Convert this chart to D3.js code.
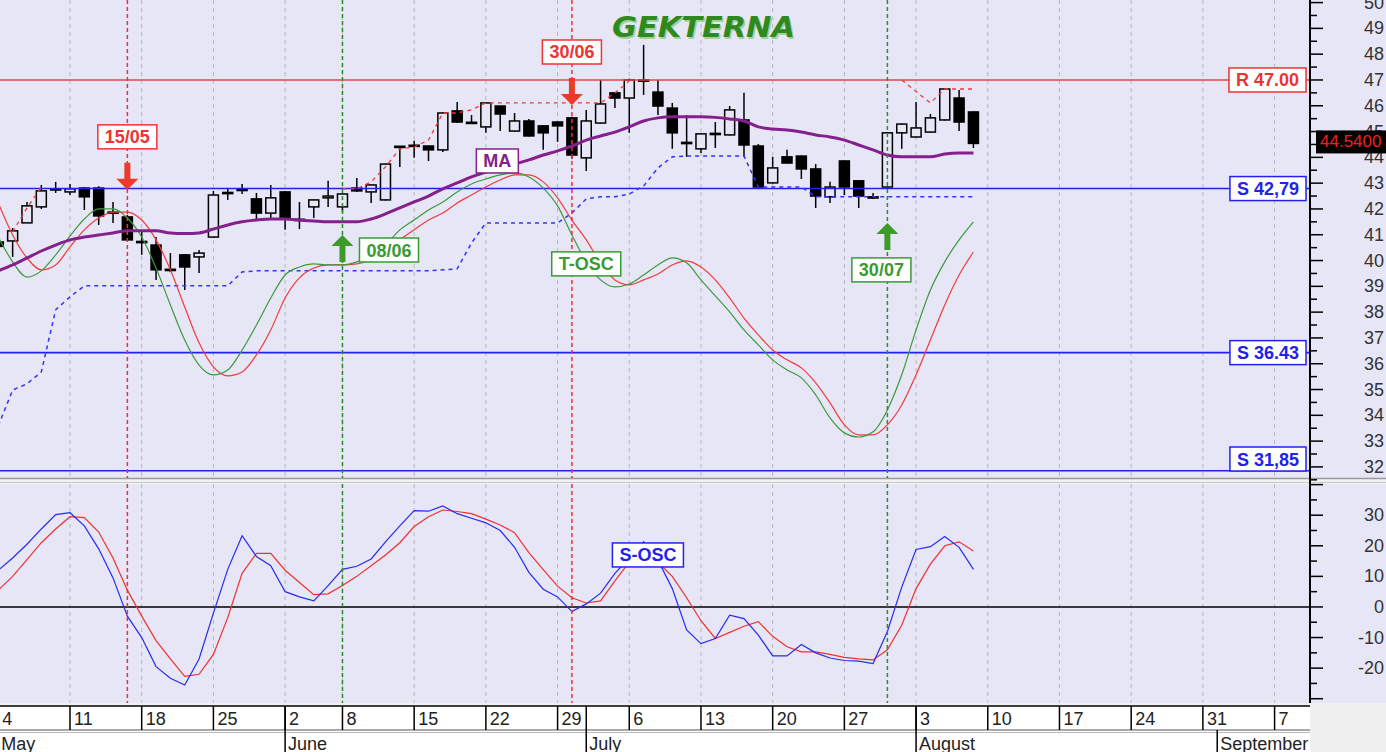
<!DOCTYPE html>
<html>
<head>
<meta charset="utf-8">
<script src="https://cdn.jsdelivr.net/npm/d3@7"></script>
<style>
  html, body { margin: 0; padding: 0; background: #E6E6F6; overflow: hidden; }
  svg { display: block; }
</style>
</head>
<body>
<svg id="chart" width="1386" height="752"></svg>
<script>
/* GEKTERNA daily candles, May - August, with MA, T-OSC, S-OSC and stop lines.
   Index i is the trading day counted from Monday 4 May.                      */
var days = ['04/05','05/05','06/05','07/05','08/05','11/05','12/05','13/05','14/05','15/05',
  '18/05','19/05','20/05','21/05','22/05','25/05','26/05','27/05','28/05','29/05',
  '02/06','03/06','04/06','05/06','08/06','09/06','10/06','11/06','12/06','15/06',
  '16/06','17/06','18/06','19/06','22/06','23/06','24/06','25/06','26/06','29/06',
  '30/06','01/07','02/07','03/07','06/07','07/07','08/07','09/07','10/07','13/07',
  '14/07','15/07','16/07','17/07','20/07','21/07','22/07','23/07','24/07','27/07',
  '28/07','29/07','30/07','31/07','03/08','04/08','05/08','06/08','07/08'];

var opens = [40.72, 40.76, 41.46, 42.08, 42.75, 42.66, 42.81, 42.81, 41.88, 41.69,
  40.74, 40.60, 39.66, 40.22, 40.14, 40.91, 42.60, 42.72, 42.39, 41.84,
  42.66, 41.60, 42.08, 42.43, 42.08, 42.81, 42.66, 42.35, 44.40, 44.44,
  44.44, 44.29, 45.80, 45.36, 45.18, 45.99, 45.02, 45.41, 45.22, 45.37,
  45.53, 43.98, 45.33, 46.50, 46.30, 47.00, 46.53, 45.91, 44.58, 44.33,
  44.89, 44.87, 45.45, 44.44, 43.01, 44.02, 44.05, 43.55, 42.47, 43.86,
  43.09, 42.47, 42.85, 44.95, 44.79, 44.98, 45.45, 46.30, 45.76];
var highs = [40.95, 41.26, 42.27, 42.93, 43.05, 42.97, 42.85, 42.88, 42.27, 41.77,
  41.11, 40.91, 40.29, 40.25, 40.41, 42.70, 42.81, 42.97, 42.62, 42.93,
  42.70, 42.27, 42.37, 43.09, 42.60, 43.20, 42.95, 43.76, 44.44, 44.64,
  44.46, 45.74, 46.15, 45.64, 46.13, 46.00, 45.72, 45.49, 45.24, 45.39,
  45.57, 45.84, 47.00, 46.52, 47.05, 48.36, 47.00, 46.11, 45.64, 44.93,
  45.37, 45.99, 46.50, 44.52, 44.02, 44.29, 44.07, 43.74, 43.05, 43.88,
  43.11, 42.62, 44.97, 45.31, 46.15, 45.68, 46.67, 46.61, 45.78];
var lows = [40.30, 40.14, 41.46, 42.00, 42.62, 42.54, 41.96, 41.38, 41.46, 40.78,
  40.22, 39.25, 39.55, 38.86, 39.52, 40.88, 42.35, 42.58, 41.57, 41.65,
  41.19, 41.22, 41.65, 42.08, 41.88, 42.66, 42.23, 42.33, 43.63, 43.98,
  43.86, 44.21, 45.33, 45.31, 44.95, 45.02, 45.00, 44.81, 44.29, 44.60,
  43.95, 43.47, 45.31, 45.91, 44.95, 46.42, 45.64, 44.33, 44.02, 44.17,
  44.36, 44.85, 44.02, 42.80, 42.99, 43.76, 43.16, 42.04, 42.23, 42.54,
  42.04, 42.39, 42.83, 44.33, 44.77, 44.96, 45.43, 45.02, 44.36];
var closes = [40.55, 41.15, 42.12, 42.70, 42.78, 42.78, 42.47, 41.73, 41.85, 40.80,
  40.70, 39.64, 39.62, 39.75, 40.29, 42.54, 42.64, 42.76, 41.84, 42.43,
  41.65, 41.55, 42.35, 42.50, 42.58, 42.70, 42.93, 43.74, 44.43, 44.47,
  44.29, 45.72, 45.37, 45.33, 46.11, 45.68, 45.41, 44.83, 44.95, 45.22,
  44.09, 45.41, 46.07, 46.30, 47.00, 46.97, 45.99, 44.95, 44.56, 44.91,
  44.93, 45.84, 44.48, 42.85, 43.59, 43.78, 43.55, 42.50, 42.85, 42.85,
  42.50, 42.45, 44.95, 45.29, 45.14, 45.53, 46.65, 45.37, 44.54];

var maLine = [39.60, 39.83, 40.10, 40.37, 40.60, 40.80, 40.91, 40.99, 41.07, 41.15,
  41.15, 41.15, 41.07, 41.05, 41.07, 41.22, 41.38, 41.50, 41.57, 41.61,
  41.61, 41.57, 41.53, 41.50, 41.50, 41.50, 41.61, 41.81, 42.04, 42.27,
  42.50, 42.78, 43.01, 43.24, 43.43, 43.59, 43.74, 43.90, 44.09, 44.25,
  44.44, 44.67, 44.83, 44.98, 45.18, 45.41, 45.53, 45.57, 45.57, 45.57,
  45.55, 45.49, 45.41, 45.18, 45.10, 45.06, 44.98, 44.87, 44.79, 44.67,
  44.48, 44.29, 44.09, 44.02, 44.02, 44.02, 44.13, 44.17, 44.17];

/* T-OSC is plotted on the price scale */
var tOscFast = [40.91, 39.95, 39.36, 39.60, 40.22, 40.95, 41.61, 42.00, 42.00, 41.65,
  40.91, 39.71, 38.28, 36.92, 35.95, 35.57, 35.76, 36.53, 37.50, 38.55,
  39.44, 39.75, 39.87, 39.83, 39.83, 39.95, 40.22, 40.60, 41.19, 41.57,
  41.96, 42.27, 42.66, 42.97, 43.16, 43.32, 43.40, 43.24, 42.81, 42.12,
  40.99, 39.95, 39.25, 38.98, 39.09, 39.44, 39.83, 40.10, 39.91, 39.25,
  38.63, 38.01, 37.31, 36.73, 36.15, 35.76, 35.45, 34.79, 33.90, 33.32,
  33.16, 33.36, 34.21, 35.57, 37.31, 38.86, 39.95, 40.80, 41.50];
var tOscSlow = [42.23, 40.99, 40.10, 39.64, 39.83, 40.53, 41.19, 41.65, 41.88, 41.88,
  41.57, 40.80, 39.64, 38.20, 36.81, 35.88, 35.53, 35.68, 36.34, 37.31,
  38.55, 39.33, 39.71, 39.83, 39.83, 39.87, 40.02, 40.29, 40.80, 41.19,
  41.57, 41.84, 42.23, 42.54, 42.85, 43.12, 43.32, 43.32, 43.05, 42.43,
  41.57, 40.80, 39.91, 39.25, 39.06, 39.25, 39.48, 39.83, 39.99, 39.75,
  39.25, 38.55, 37.77, 37.12, 36.53, 36.15, 35.84, 35.26, 34.48, 33.63,
  33.24, 33.24, 33.63, 34.40, 35.57, 36.92, 38.28, 39.44, 40.33];

var sOscFast = [12, 16, 20.5, 25.5, 30.2, 30.8, 26.5, 19, 9.5, -3,
  -10, -19.5, -23.3, -25.5, -17, -2, 12.3, 23.3, 16.5, 13.5,
  5, 3.3, 2, 7, 12.3, 13.3, 15.7, 21.3, 26.5, 31.5,
  31.3, 33, 30.5, 29, 27.5, 25, 19.5, 11.3, 5.8, 3.3,
  -1.5, 1, 4.5, 11, 16, 21.3, 15.3, 6, -7.5, -12,
  -10.3, -2.7, -3.8, -9.2, -16, -16, -12.3, -15, -16.7, -17.5,
  -17.7, -18.5, -8, 6.5, 18.8, 19.7, 23, 19.5, 12.3];
var sOscSlow = [5.5, 10, 15.5, 21, 25.5, 29.5, 29.2, 24.5, 16, 5.5,
  -3, -11, -17, -22.7, -22, -15.5, -3.5, 11, 17.5, 17.5,
  12, 8, 4, 4.3, 7, 10, 13.5, 17, 21, 26.3,
  29.5, 31.7, 31.2, 30.5, 28.7, 26.8, 24.3, 17.8, 12.2, 6.8,
  3, 1.3, 2, 8.5, 14.7, 16, 14.5, 10, 3, -4.5,
  -10.3, -8.3, -6.3, -4.8, -9.6, -13, -14.7, -14.7, -15.5, -16.5,
  -17, -17.3, -14, -6, 6, 14, 20, 21.3, 18.3];

/* trailing stops: blue one below price, red one above (only in up-legs) */
var supportStop = [33.59, 34.98, 35.22, 35.68, 38.09, 38.59, 39.02, 39.02, 39.02, 39.02,
  39.02, 39.02, 39.02, 39.02, 39.02, 39.02, 39.02, 39.56, 39.60, 39.60,
  39.60, 39.60, 39.60, 39.60, 39.60, 39.60, 39.60, 39.60, 39.60, 39.60,
  39.60, 39.64, 39.68, 40.68, 41.46, 41.46, 41.46, 41.46, 41.46, 41.46,
  41.84, 42.39, 42.47, 42.47, 42.58, 42.89, 43.59, 44.02, 44.05, 44.05,
  44.05, 44.05, 44.05, 42.85, 42.85, 42.85, 42.85, 42.47, 42.47, 42.47,
  42.47, 42.47, 42.47, 42.47, 42.47, 42.47, 42.47, 42.47, 42.47];
var resistStop = [null, 41.11, 42.04, 42.85, null, null, null, null, null, null,
  null, null, null, null, null, null, null, null, null, null,
  null, null, null, null, 42.78, 42.78, 43.05, 43.63, 44.33, 44.40,
  44.67, 45.72, 45.72, 45.84, 46.11, 46.11, 46.11, 46.11, 46.11, 46.11,
  46.11, 46.11, 46.11, 46.50, 46.96, null, null, null, null, null,
  null, null, null, null, null, null, null, null, null, null,
  null, null, null, 47.00, 46.55, 46.11, 46.65, 46.65, 46.65];

/* support / resistance levels */
var levelValues = [47.00, 42.79, 36.43, 31.85];
var levelTexts = ['R 47.00', 'S 42,79', 'S 36.43', 'S 31,85'];
var levelKinds = ['R', 'S', 'S', 'S'];

/* signals */
var signalIdx = [9, 24, 40, 62];
var signalTexts = ['15/05', '08/06', '30/06', '30/07'];
var signalDirs = ['down', 'up', 'down', 'up'];
var signalTips = [42.74, 40.99, 46.03, 41.46];

/* time axis (trading-day index of each tick) */
var weekTickIdx = [0, 5, 10, 15, 20, 24, 29, 34, 39, 44, 49, 54, 59, 64, 69, 74, 79, 84, 89];
var weekTickLabels = ['4', '11', '18', '25', '2', '8', '15', '22', '29', '6', '13', '20', '27', '3', '10', '17', '24', '31', '7'];
var monthIdx = [0, 20, 41, 64, 85];
var monthLabels = ['May', 'June', 'July', 'August', 'September'];

var priceTicks = d3.range(32, 51, 1);
var oscTicks = [-20, -10, 0, 10, 20, 30];

(function () {
  'use strict';

  var W = 1386, H = 752, AX = 1310;
  var P_TOP = 0, P_BOT = 478, O_TOP = 484, O_BOT = 703, D_TOP = 706, D_MID = 730;
  var BG = '#E6E6F6';
  var FONT = "'Liberation Sans', Arial, sans-serif";
  var RED = '#EE3333', GREEN = '#3A9A34', BLUE = '#2222EE', PURPLE = '#84208C';

  var svg = d3.select('#chart');
  var x = d3.scaleLinear().domain([0, 91.47]).range([-1.7, AX]);
  var yP = d3.scaleLinear().domain([31.57, 50.1]).range([P_BOT, P_TOP]);
  var yO = d3.scaleLinear().domain([-31.4, 40.2]).range([O_BOT, O_TOP]);

  var defs = svg.append('defs');
  defs.append('clipPath').attr('id', 'clipP').append('rect')
    .attr('x', 0).attr('y', P_TOP).attr('width', AX).attr('height', P_BOT - P_TOP);
  defs.append('clipPath').attr('id', 'clipO').append('rect')
    .attr('x', 0).attr('y', O_TOP).attr('width', AX).attr('height', O_BOT - O_TOP);
  defs.append('clipPath').attr('id', 'clipD').append('rect')
    .attr('x', 0).attr('y', D_TOP - 2).attr('width', AX).attr('height', H - D_TOP + 2);

  /* background, panel separator, date band */
  svg.append('rect').attr('width', W).attr('height', H).attr('fill', BG);
  svg.append('rect').attr('x', 0).attr('y', P_BOT).attr('width', W).attr('height', O_TOP - P_BOT).attr('fill', '#F2F2F2');
  svg.append('line').attr('x1', 0).attr('x2', W).attr('y1', P_BOT + 0.5).attr('y2', P_BOT + 0.5)
    .attr('stroke', '#9A9A9A').attr('stroke-width', 1.5);
  svg.append('line').attr('x1', 0).attr('x2', W).attr('y1', O_TOP - 1.5).attr('y2', O_TOP - 1.5)
    .attr('stroke', '#C8C8C8').attr('stroke-width', 1);
  svg.append('rect').attr('x', 0).attr('y', O_BOT).attr('width', W).attr('height', H - O_BOT).attr('fill', '#F0F0F0');
  svg.append('rect').attr('x', 0).attr('y', D_TOP).attr('width', AX).attr('height', H - D_TOP).attr('fill', '#fff');

  var gP = svg.append('g').attr('clip-path', 'url(#clipP)');
  var gO = svg.append('g').attr('clip-path', 'url(#clipO)');

  /* weekly grid */
  [[gP, P_TOP, P_BOT], [gO, O_TOP, O_BOT]].forEach(function (p) {
    p[0].selectAll('line.grid').data(weekTickIdx).enter().append('line')
      .attr('class', 'grid')
      .attr('x1', function (d) { return x(d); }).attr('x2', function (d) { return x(d); })
      .attr('y1', p[1]).attr('y2', p[2])
      .attr('stroke', '#B8B8B8').attr('stroke-width', 1).attr('stroke-dasharray', '4,4');
  });

  /* candles */
  var cg = gP.append('g');
  var candles = cg.selectAll('g').data(days).enter().append('g');
  candles.append('line')
    .attr('x1', function (d, i) { return x(i); }).attr('x2', function (d, i) { return x(i); })
    .attr('y1', function (d, i) { return yP(highs[i]); })
    .attr('y2', function (d, i) { return yP(lows[i]); })
    .attr('stroke', '#000').attr('stroke-width', 1.5);
  candles.append('rect')
    .attr('x', function (d, i) { return x(i) - 5; })
    .attr('width', 10)
    .attr('y', function (d, i) { return yP(Math.max(opens[i], closes[i])); })
    .attr('height', function (d, i) { return Math.max(1.2, Math.abs(yP(opens[i]) - yP(closes[i]))); })
    .attr('fill', function (d, i) { return closes[i] >= opens[i] ? BG : '#000'; })
    .attr('stroke', '#000').attr('stroke-width', 1.5);

  /* horizontal levels */
  levelValues.forEach(function (v, k) {
    gP.append('line').attr('x1', 0).attr('x2', AX).attr('y1', yP(v)).attr('y2', yP(v))
      .attr('stroke', levelKinds[k] === 'R' ? '#E24444' : BLUE).attr('stroke-width', 1.6);
  });

  function pLine(arr, curve) {
    return d3.line()
      .defined(function (d) { return d != null; })
      .x(function (d, i) { return x(i); })
      .y(function (d) { return yP(d); })
      .curve(curve || d3.curveLinear)(arr);
  }
  function oLine(arr) {
    return d3.line().x(function (d, i) { return x(i); }).y(function (d) { return yO(d); })(arr);
  }

  /* stops */
  gP.append('path').attr('d', pLine(supportStop)).attr('fill', 'none')
    .attr('stroke', '#3333F2').attr('stroke-width', 1.5).attr('stroke-dasharray', '4,4');
  gP.append('path').attr('d', pLine(resistStop)).attr('fill', 'none')
    .attr('stroke', '#F03A3A').attr('stroke-width', 1.3).attr('stroke-dasharray', '4,4');

  /* T-OSC and MA */
  gP.append('path').attr('d', pLine(tOscSlow, d3.curveMonotoneX)).attr('fill', 'none')
    .attr('stroke', '#F03C3C').attr('stroke-width', 1.2);
  gP.append('path').attr('d', pLine(tOscFast, d3.curveMonotoneX)).attr('fill', 'none')
    .attr('stroke', '#3C9A3C').attr('stroke-width', 1.2);
  gP.append('path').attr('d', pLine(maLine, d3.curveMonotoneX)).attr('fill', 'none')
    .attr('stroke', PURPLE).attr('stroke-width', 3);

  /* S-OSC panel */
  gO.append('line').attr('x1', 0).attr('x2', AX).attr('y1', yO(0)).attr('y2', yO(0))
    .attr('stroke', '#000').attr('stroke-width', 1.5);
  gO.append('path').attr('d', oLine(sOscSlow)).attr('fill', 'none')
    .attr('stroke', '#F03030').attr('stroke-width', 1.2);
  gO.append('path').attr('d', oLine(sOscFast)).attr('fill', 'none')
    .attr('stroke', '#2A2AF0').attr('stroke-width', 1.2);

  /* signal verticals */
  signalIdx.forEach(function (si, k) {
    var col = signalDirs[k] === 'down' ? '#F03030' : '#2E8B2E';
    [[gP, P_TOP, P_BOT], [gO, O_TOP, O_BOT]].forEach(function (p) {
      p[0].append('line').attr('x1', x(si)).attr('x2', x(si)).attr('y1', p[1]).attr('y2', p[2])
        .attr('stroke', col).attr('stroke-width', 1.5).attr('stroke-dasharray', '4,3');
    });
  });

  /* boxed tags */
  function tag(g, cx, cy, text, color, anchor) {
    var grp = g.append('g');
    var rect = grp.append('rect');
    var t = grp.append('text').text(text)
      .attr('font-family', FONT).attr('font-size', 18).attr('font-weight', 'bold')
      .attr('fill', color).attr('text-anchor', 'middle');
    var w = t.node().getComputedTextLength() + 14, h = 24;
    var left = anchor === 'end' ? cx - w : (anchor === 'start' ? cx : cx - w / 2);
    rect.attr('x', left).attr('y', cy - h / 2).attr('width', w).attr('height', h)
      .attr('fill', '#fff').attr('stroke', color).attr('stroke-width', 1.5);
    t.attr('x', left + w / 2).attr('y', cy + 6.5);
  }

  function arrow(g, ax, tip, dir, color) {
    var s = dir === 'down' ? -1 : 1, L = 27, hl = 11;
    var pts = [[ax - 3, tip + s * L], [ax + 3, tip + s * L], [ax + 3, tip + s * hl], [ax + 11, tip + s * hl],
      [ax, tip], [ax - 11, tip + s * hl], [ax - 3, tip + s * hl]];
    g.append('polygon').attr('points', pts.map(function (p) { return p.join(','); }).join(' '))
      .attr('fill', color);
  }

  var gA = svg.append('g');
  var tagPlacement = ['above', 'right', 'above', 'below'];
  signalIdx.forEach(function (si, k) {
    var ax = x(si), tip = yP(signalTips[k]);
    if (signalDirs[k] === 'down') {
      arrow(gA, ax, tip, 'down', '#EE3A2A');
    } else {
      arrow(gA, ax, tip, 'up', '#3E9A2A');
    }
    var col = signalDirs[k] === 'down' ? RED : GREEN;
    if (tagPlacement[k] === 'above') tag(gA, ax, tip - 53, signalTexts[k], col, 'middle');
    else if (tagPlacement[k] === 'right') tag(gA, ax + 17, tip + 15, signalTexts[k], col, 'start');
    else tag(gA, ax - 6, tip + 47, signalTexts[k], col, 'middle');
  });

  /* line labels */
  tag(gA, x(34.8), yP(43.86), 'MA', PURPLE, 'middle');
  tag(gA, x(41.0), yP(39.87), 'T-OSC', GREEN, 'middle');
  tag(gA, x(45.3), yO(17), 'S-OSC', BLUE, 'middle');

  /* level tags, kept inside the price panel */
  levelValues.forEach(function (v, k) {
    var cy = Math.min(yP(v), P_BOT - 19);
    tag(gA, AX - 4, cy, levelTexts[k], levelKinds[k] === 'R' ? RED : BLUE, 'end');
  });

  /* title */
  svg.append('text').attr('x', 613.5).attr('y', 38.5).text('GEKTERNA')
    .attr('font-family', "'DejaVu Sans', Verdana, sans-serif").attr('font-size', 28)
    .attr('font-weight', 'bold').attr('font-style', 'italic')
    .attr('textLength', 183).attr('lengthAdjust', 'spacingAndGlyphs')
    .attr('fill', '#A6CFA0');
  svg.append('text').attr('x', 612).attr('y', 37).text('GEKTERNA')
    .attr('font-family', "'DejaVu Sans', Verdana, sans-serif").attr('font-size', 28)
    .attr('font-weight', 'bold').attr('font-style', 'italic')
    .attr('textLength', 183).attr('lengthAdjust', 'spacingAndGlyphs')
    .attr('fill', '#2E8A1E');

  /* right axes */
  function rightAxis(scale, majors, minors, labels, y0, y1) {
    var g = svg.append('g').attr('transform', 'translate(' + AX + ',0)');
    g.append('line').attr('x1', 0).attr('x2', 0).attr('y1', y0).attr('y2', y1)
      .attr('stroke', '#000').attr('stroke-width', 2);
    g.selectAll('line.mn').data(minors).enter().append('line').attr('class', 'mn')
      .attr('x1', 0).attr('x2', 7).attr('y1', function (d) { return scale(d); }).attr('y2', function (d) { return scale(d); })
      .attr('stroke', '#000').attr('stroke-width', 1.5);
    g.selectAll('line.mj').data(majors).enter().append('line').attr('class', 'mj')
      .attr('x1', 0).attr('x2', 13).attr('y1', function (d) { return scale(d); }).attr('y2', function (d) { return scale(d); })
      .attr('stroke', '#000').attr('stroke-width', 1.5);
    g.selectAll('text').data(labels).enter().append('text')
      .attr('x', 74).attr('y', function (d) { return scale(d) + 6; })
      .attr('text-anchor', 'end').attr('font-family', FONT).attr('font-size', 18).attr('fill', '#333')
      .text(function (d) { return d; });
  }
  rightAxis(yP, priceTicks, d3.range(31.5, 50.5, 1), priceTicks, P_TOP, P_BOT + 6);
  rightAxis(yO, [-30, -20, -10, 0, 10, 20, 30, 40], [-25, -15, -5, 5, 15, 25, 35], oscTicks, O_TOP, O_BOT);

  /* last price box */
  var last = closes[closes.length - 1];
  svg.append('rect').attr('x', 1316).attr('y', yP(last) - 13).attr('width', 72).attr('height', 23).attr('fill', '#000');
  svg.append('text').attr('x', 1320).attr('y', yP(last) + 4).text(last.toFixed(4))
    .attr('font-family', FONT).attr('font-size', 17).attr('fill', '#F02020');

  /* date axis */
  var gD = svg.append('g').attr('clip-path', 'url(#clipD)');
  gD.append('line').attr('x1', 0).attr('x2', AX).attr('y1', D_TOP).attr('y2', D_TOP)
    .attr('stroke', '#000').attr('stroke-width', 1.5);
  gD.append('line').attr('x1', 0).attr('x2', AX).attr('y1', D_MID).attr('y2', D_MID)
    .attr('stroke', '#555').attr('stroke-width', 1.2);
  gD.append('line').attr('x1', 0).attr('x2', AX).attr('y1', D_MID + 2.5).attr('y2', D_MID + 2.5)
    .attr('stroke', '#BBB').attr('stroke-width', 1.2);
  weekTickIdx.forEach(function (wi, k) {
    gD.append('line').attr('x1', x(wi)).attr('x2', x(wi)).attr('y1', D_TOP).attr('y2', D_MID)
      .attr('stroke', '#000').attr('stroke-width', 1.5);
    gD.append('text').attr('x', x(wi) + 4).attr('y', D_MID - 5).text(weekTickLabels[k])
      .attr('font-family', FONT).attr('font-size', 18).attr('fill', '#222');
  });
  /* month breaks inside the data span cut both rows, later ones only the lower row */
  monthIdx.forEach(function (mi, k) {
    var top = mi < days.length ? D_TOP : D_MID;
    gD.append('line').attr('x1', x(mi)).attr('x2', x(mi)).attr('y1', top).attr('y2', H)
      .attr('stroke', '#000').attr('stroke-width', 1.5);
    gD.append('text').attr('x', x(mi) + 3).attr('y', H - 2).text(monthLabels[k])
      .attr('font-family', FONT).attr('font-size', 18).attr('fill', '#222');
  });
})();
</script>
</body>
</html>
